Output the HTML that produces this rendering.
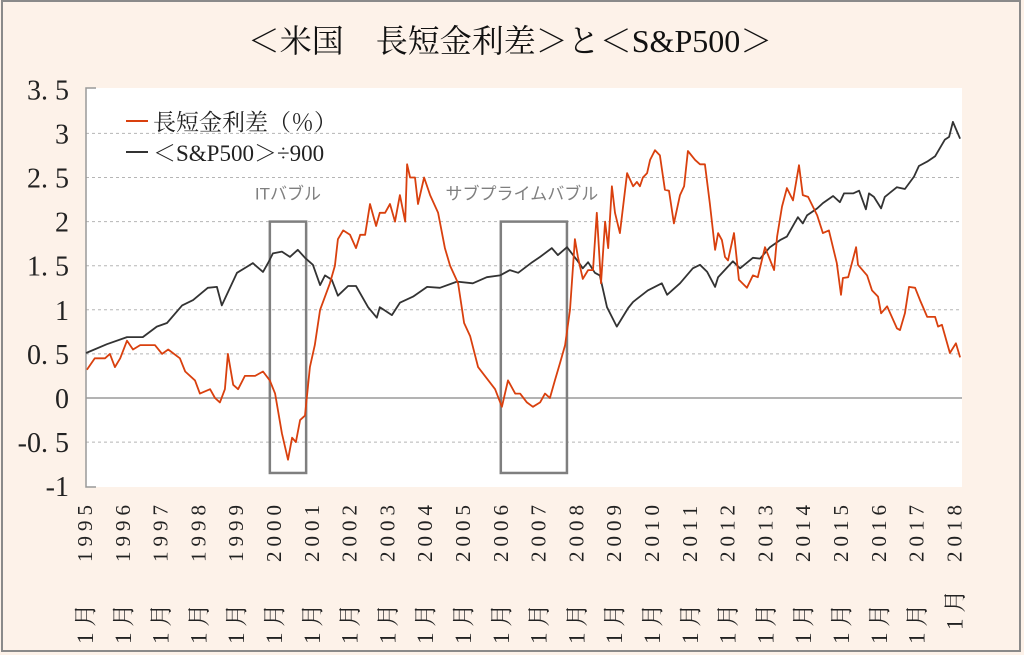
<!DOCTYPE html>
<html><head><meta charset="utf-8"><style>
html,body{margin:0;padding:0;background:#fdf2e9;}
svg{display:block;}
</style></head><body>
<svg id="chart" width="1024" height="655" viewBox="0 0 1024 655" xmlns="http://www.w3.org/2000/svg">
<rect x="0" y="0" width="1024" height="655" fill="#fdf2e9"/>
<rect x="2" y="1" width="1018" height="650" fill="none" stroke="#8a8a8a" stroke-width="2"/>
<text x="510" y="52" text-anchor="middle" font-family="'Liberation Serif','Noto Serif CJK SC',serif" font-size="32" fill="#111">＜米国　長短金利差＞と＜S&amp;P500＞</text>
<rect x="86" y="88" width="876" height="399" fill="#ffffff"/>
<g id="grid"></g>
<g id="yticks"></g>
<g id="xticks"></g>
<g id="boxes"></g>
<g id="series"></g>
<g font-family="'Liberation Serif','Noto Serif CJK SC',serif" font-size="23" fill="#222">
<line x1="126" y1="121" x2="148" y2="121" stroke="#d9400e" stroke-width="2"/>
<text x="153" y="130">長短金利差（％）</text>
<line x1="126" y1="152" x2="148" y2="152" stroke="#333" stroke-width="2"/>
<text x="153" y="161">＜S&amp;P500＞÷900</text>
</g>
</svg>
<script>
const yearTicks = ["1995","1996","1997","1998","1999","2000","2001","2002","2003","2004","2005","2006","2007","2008","2009","2010","2011","2012","2013","2014","2015","2016","2017","2018"];
const yTickValues = [3.5,3,2.5,2,1.5,1,0.5,0,-0.5,-1];
const yTickLabels = ["3. 5","3","2. 5","2","1. 5","1","0. 5","0","-0. 5","-1"];
const spreadDates = [0.05,0.26,0.53,0.66,0.79,0.93,1.11,1.27,1.46,1.85,2.04,2.20,2.51,2.65,2.91,3.04,3.31,3.44,3.57,3.70,3.78,3.92,4.05,4.23,4.50,4.71,4.89,5.03,5.21,5.37,5.48,5.58,5.69,5.82,5.95,6.08,6.22,6.35,6.48,6.61,6.69,6.83,7.01,7.17,7.28,7.41,7.54,7.70,7.80,7.94,8.07,8.20,8.33,8.47,8.52,8.60,8.73,8.81,8.97,9.13,9.34,9.52,9.66,9.87,10.03,10.19,10.40,10.58,10.85,11.03,11.19,11.38,11.51,11.69,11.85,12.04,12.17,12.30,12.43,12.57,12.70,12.83,12.96,13.04,13.17,13.31,13.44,13.54,13.65,13.76,13.84,13.94,14.02,14.15,14.34,14.50,14.60,14.68,14.76,14.87,14.95,15.08,15.21,15.34,15.45,15.58,15.74,15.85,15.95,16.14,16.27,16.40,16.53,16.67,16.75,16.85,16.93,17.01,17.17,17.30,17.51,17.67,17.80,17.99,18.23,18.31,18.44,18.57,18.73,18.89,18.99,19.13,19.37,19.52,19.68,19.89,20.00,20.05,20.19,20.40,20.45,20.69,20.82,20.98,21.06,21.22,21.48,21.56,21.69,21.80,21.96,22.09,22.28,22.49,22.57,22.67,22.88,23.04,23.15];
const spreadValues = [0.32,0.45,0.45,0.5,0.35,0.45,0.65,0.55,0.6,0.6,0.5,0.55,0.45,0.3,0.2,0.05,0.1,0.0,-0.05,0.1,0.5,0.15,0.1,0.25,0.25,0.3,0.2,0.05,-0.4,-0.7,-0.45,-0.5,-0.25,-0.2,0.35,0.6,1.0,1.15,1.3,1.5,1.8,1.9,1.85,1.7,1.85,1.85,2.2,1.95,2.1,2.1,2.2,2.0,2.3,2.0,2.65,2.5,2.5,2.2,2.5,2.3,2.1,1.7,1.5,1.3,0.85,0.7,0.35,0.25,0.1,-0.1,0.2,0.05,0.05,-0.05,-0.1,-0.05,0.05,0.0,0.2,0.4,0.6,1.0,1.8,1.6,1.35,1.45,1.45,2.1,1.3,2.0,1.7,2.4,2.1,1.87,2.55,2.4,2.45,2.4,2.5,2.55,2.7,2.81,2.75,2.36,2.35,1.98,2.3,2.4,2.8,2.7,2.65,2.65,2.21,1.68,1.87,1.79,1.6,1.56,1.87,1.34,1.25,1.39,1.37,1.71,1.45,1.83,2.17,2.38,2.24,2.64,2.3,2.28,2.07,1.87,1.9,1.53,1.17,1.36,1.37,1.71,1.51,1.39,1.22,1.15,0.96,1.04,0.79,0.77,0.96,1.26,1.25,1.11,0.92,0.92,0.81,0.83,0.51,0.62,0.46];
const spDates = [0.03,0.58,1.11,1.53,1.90,2.17,2.57,2.86,3.25,3.49,3.62,4.02,4.29,4.44,4.71,4.84,4.97,5.21,5.42,5.63,5.82,6.03,6.22,6.35,6.53,6.69,6.96,7.17,7.49,7.72,7.80,8.12,8.33,8.68,9.05,9.39,9.84,10.26,10.63,10.98,11.24,11.46,11.83,12.04,12.35,12.51,12.75,13.02,13.17,13.31,13.49,13.62,13.81,14.07,14.37,14.50,14.74,14.89,15.26,15.40,15.74,16.08,16.27,16.46,16.67,16.75,17.14,17.33,17.67,17.86,18.12,18.39,18.57,18.86,18.99,19.10,19.37,19.52,19.79,19.97,20.08,20.32,20.48,20.66,20.74,20.87,21.06,21.16,21.48,21.69,21.93,22.06,22.28,22.49,22.75,22.86,22.96,23.15];
const spValues = [0.51,0.61,0.69,0.69,0.81,0.85,1.05,1.11,1.25,1.26,1.05,1.42,1.49,1.53,1.43,1.53,1.64,1.66,1.6,1.68,1.59,1.51,1.28,1.39,1.34,1.16,1.27,1.27,1.03,0.91,1.03,0.94,1.08,1.15,1.26,1.25,1.32,1.3,1.37,1.39,1.45,1.42,1.54,1.6,1.7,1.62,1.71,1.56,1.47,1.54,1.42,1.39,1.03,0.81,1.02,1.09,1.17,1.22,1.3,1.17,1.3,1.47,1.51,1.43,1.26,1.37,1.55,1.47,1.59,1.58,1.71,1.79,1.83,2.05,1.98,2.07,2.15,2.21,2.29,2.22,2.32,2.32,2.35,2.14,2.32,2.28,2.15,2.28,2.39,2.37,2.51,2.63,2.68,2.74,2.93,2.96,3.13,2.94];
const bubbleStarts = [4.89,11.0];
const bubbleEnds = [5.85,12.75];
const bubbleTop = [2.0,2.0];
const bubbleBottom = [-0.85,-0.85];
const bubbleLabels = ["ITバブル","サブプライムバブル"];

const NS="http://www.w3.org/2000/svg";
const X0=85, XS=37.8, Y0=398, YS=88.2;
function xScale(d){return X0+d*XS;}
function yScale(v){return Y0-v*YS;}
function mk(tag,attrs,parent){const e=document.createElementNS(NS,tag);for(const k in attrs)e.setAttribute(k,attrs[k]);parent.appendChild(e);return e;}
const serif="'Liberation Serif','Noto Serif CJK SC',serif";

const grid=document.getElementById('grid');
yTickValues.forEach(v=>{
  if(v===3.5||v===-1)return;
  const l=mk('line',{x1:86,x2:962,y1:yScale(v),y2:yScale(v),stroke:v===0?'#9a9a9a':'#b5b5b5','stroke-width':v===0?1.5:1,'stroke-dasharray':v===0?'none':'3,3'},grid);
  
  
});
const ax=mk('polyline',{points:"96,88 86,88 86,487 96,487",fill:'none',stroke:'#999','stroke-width':1.5},grid);



const yt=document.getElementById('yticks');
yTickValues.forEach((v,i)=>{
  const t=mk('text',{x:69,y:yScale(v)+10,'text-anchor':'end','font-family':serif,'font-size':28,fill:'#222'},yt);
  t.textContent=yTickLabels[i];
  
  
});

const xt=document.getElementById('xticks');
yearTicks.forEach((y,i)=>{
  const x=xScale(i)+7;
  const t=mk('text',{x:0,y:0,transform:`translate(${x},562) rotate(-90)`,'font-family':serif,'font-size':21,'letter-spacing':5,fill:'#222'},xt);
  t.textContent=y;
  
  
  const m=mk('text',{x:0,y:0,transform:`translate(${x+1},${i===yearTicks.length-1?630:644}) rotate(-90)`,'font-family':serif,'font-size':23,fill:'#222'},xt);
  m.textContent="1 月";
  
  
});

const bx=document.getElementById('boxes');
bubbleStarts.forEach((s,i)=>{
  const x1=xScale(s),x2=xScale(bubbleEnds[i]);
  const r=mk('rect',{x:x1,y:yScale(bubbleTop[i]),width:x2-x1,height:yScale(bubbleBottom[i])-yScale(bubbleTop[i]),fill:'none',stroke:'#7f7f7f','stroke-width':2.5},bx);
  
  
  const t=mk('text',{x:i===0?(x1+x2)/2:(x1+x2)/2-12,y:yScale(bubbleTop[i])-22,'text-anchor':'middle','font-family':"'Liberation Sans','Noto Sans CJK JP',sans-serif",'font-size':17,fill:'#7f7f7f'},bx);
  t.textContent=bubbleLabels[i];
  
  
});

const sg=document.getElementById('series');
function line(dates,vals,color,name){
  const p=dates.map((d,i)=>xScale(d).toFixed(1)+','+yScale(vals[i]).toFixed(1)).join(' ');
  const l=mk('polyline',{points:p,fill:'none',stroke:color,'stroke-width':1.8,'stroke-linejoin':'round'},sg);
  
  
}
line(spDates,spValues,'#333333','sp500-line');
line(spreadDates,spreadValues,'#d9400e','spread-line');
</script>
</body></html>
